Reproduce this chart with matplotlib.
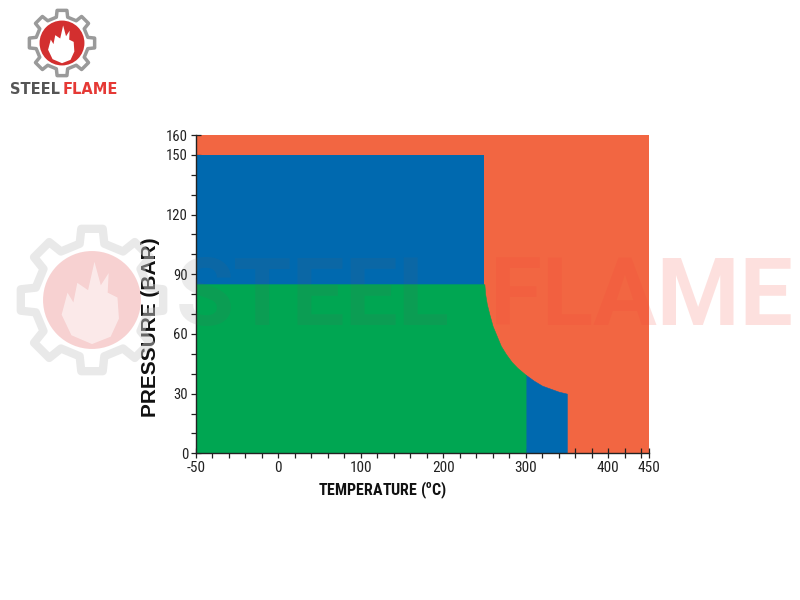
import numpy as np
import matplotlib
matplotlib.use('Agg')
import matplotlib.pyplot as plt
from matplotlib.patches import Polygon, Circle
from matplotlib import font_manager

# ---------------- data ----------------
temp_range = [-100, 450]          # visible temperature span (left end is labelled "-50" in the source)
press_range = [0, 160]
upper_blue_t = [-100, 250]
upper_blue_low = 85
upper_blue_high = 150
# boundary of the green / lower-blue area (temperature, pressure)
bound_t = [-100, 250, 251, 253, 256, 260, 265, 270, 276, 283, 290, 300, 310, 320, 330, 340, 350]
bound_p = [85, 85, 80, 75, 70, 64, 59, 54, 50, 46, 43, 39.5, 36.5, 34, 32.5, 31, 30]
green_limit = 300
x_tick_pos = [-100, 0, 100, 200, 300, 400, 450]
x_tick_labels = ['-50', '0', '100', '200', '300', '400', '450']
x_minor_step = 20
y_tick_pos = [0, 30, 60, 90, 120, 150, 160]
y_tick_labels = ['0', '30', '60', '90', '120', '150', '160']
y_minor_step = 10

ORANGE = '#F26642'
BLUE = '#0069AF'
GREEN = '#00A652'


def pick_font(names):
    for n in names:
        try:
            font_manager.findfont(n, fallback_to_default=False)
            return n
        except Exception:
            continue
    return 'DejaVu Sans'


NARROW = pick_font(['Liberation Sans Narrow', 'Roboto Condensed', 'Liberation Sans'])
ARIAL = pick_font(['Liberation Sans', 'DejaVu Sans'])
WM = pick_font(['Roboto', 'DejaVu Sans'])

fig = plt.figure(figsize=(8, 6), dpi=100)
ax = fig.add_axes([195.7 / 800, 1 - 453.3 / 600, (649.3 - 195.7) / 800, (453.3 - 135) / 600])

t = np.array(bound_t, dtype=float)
p = np.array(bound_p, dtype=float)

# orange background
ax.fill_between(temp_range, press_range[0], press_range[1], color=ORANGE, lw=0, zorder=1)
# upper blue rectangle (drawn down to the axis so no seam shows under the green)
ax.fill_between(upper_blue_t, press_range[0], upper_blue_high, color=BLUE, lw=0, zorder=2)
# lower blue area
m2 = t >= green_limit
ax.fill_between(t[m2], 0, p[m2], facecolor=BLUE, edgecolor=BLUE, lw=0.4, zorder=2)
# green area
m = t <= green_limit
ax.fill_between(t[m], 0, p[m], facecolor=GREEN, edgecolor=GREEN, lw=0.4, zorder=3)

ax.set_xlim(*temp_range)
ax.set_ylim(*press_range)

for s in ['top', 'right']:
    ax.spines[s].set_visible(False)
for s in ['left', 'bottom']:
    ax.spines[s].set_linewidth(1.0)
    ax.spines[s].set_color('#222222')
    ax.spines[s].set_zorder(5)

ax.set_xticks(x_tick_pos)
ax.set_xticklabels(x_tick_labels)
ax.set_xticks(list(np.arange(temp_range[0], temp_range[1], x_minor_step)) + [temp_range[1]], minor=True)
ax.set_yticks(y_tick_pos)
ax.set_yticklabels(y_tick_labels)
ax.set_yticks(np.arange(press_range[0], press_range[1] + 1, y_minor_step), minor=True)

ax.tick_params(axis='both', which='both', direction='inout', length=7, width=0.9,
               color='#222222', zorder=6)
ax.tick_params(axis='x', which='major', labelsize=11, pad=2)
ax.tick_params(axis='y', which='major', labelsize=10.5, pad=2)
for lab in ax.get_xticklabels() + ax.get_yticklabels():
    lab.set_fontfamily(NARROW)
    lab.set_color('#222222')

ax.set_xlabel(r'TEMPERATURE ($^{\mathregular{o}}$C)', fontsize=11.5, fontweight='bold',
              fontfamily=NARROW, color='#111111')
ax.xaxis.set_label_coords((383 - 195.7) / 453.6, (453.3 - 480) / 318.3)
ax.set_ylabel('PRESSURE (BAR)', fontsize=15, fontweight='bold',
              fontfamily=ARIAL, color='#111111')
ax.yaxis.set_label_coords((160 - 195.7) / 453.6, (453.3 - 327) / 318.3)

# ---------------- decorations (logo + watermark) ----------------
ov = fig.add_axes([0, 0, 1, 1], zorder=10)
ov.set_xlim(0, 800)
ov.set_ylim(600, 0)
ov.axis('off')
ov.patch.set_alpha(0)


def gear_pts(cx, cy, r_out, r_in, n=8):
    pts = []
    for i in range(n):
        a = 2 * np.pi * i / n
        wb = np.pi / n * 0.55
        wt = np.pi / n * 0.38
        pts += [(cx + r_in * np.cos(a - wb), cy + r_in * np.sin(a - wb)),
                (cx + r_out * np.cos(a - wt), cy + r_out * np.sin(a - wt)),
                (cx + r_out * np.cos(a + wt), cy + r_out * np.sin(a + wt)),
                (cx + r_in * np.cos(a + wb), cy + r_in * np.sin(a + wb))]
    return pts


flame_norm = [(0, 0.9), (-0.42, 0.72), (-0.62, 0.3), (-0.5, -0.15), (-0.38, 0.05), (-0.3, -0.35),
              (-0.08, -0.2), (0.05, -0.78), (0.18, -0.3), (0.34, -0.55), (0.32, -0.15),
              (0.52, -0.05), (0.55, 0.38), (0.38, 0.75)]


def logo(cx, cy, r, gear_col, circ_col, alpha, lw):
    ov.add_patch(Polygon(gear_pts(cx, cy, r, r * 0.8), closed=True, fill=False,
                         edgecolor=gear_col, lw=lw, alpha=alpha, joinstyle='round'))
    rc = r * 0.68
    ov.add_patch(Circle((cx, cy), rc, facecolor=circ_col, edgecolor='none', alpha=alpha))
    fl = [(cx + rc * fx, cy + rc * fy) for fx, fy in flame_norm]
    ov.add_patch(Polygon(fl, closed=True, facecolor='white', edgecolor='none', alpha=0.85 * alpha + 0.15))


# top-left logo
logo(62, 43, 33, '#9a9a9a', '#d32f2f', 1.0, 2.5)
ov.text(10, 89, 'STEEL', fontsize=10.5, fontweight='bold', color='#555555',
        ha='left', va='center', fontfamily='DejaVu Sans')
ov.text(63, 89, 'FLAME', fontsize=10.5, fontweight='bold', color='#e53935',
        ha='left', va='center', fontfamily='DejaVu Sans')

# watermark
logo(92, 300, 72, '#cfcfcf', '#ef9a9a', 0.45, 6)
ov.text(176, 299, 'STEEL', fontsize=68, fontweight='bold', color='#606060', alpha=0.12,
        ha='left', va='center', fontfamily=WM)
ov.text(490, 299, 'FLAME', fontsize=68, fontweight='bold', color='#f44336', alpha=0.16,
        ha='left', va='center', fontfamily=WM)

fig.savefig('out.png', dpi=100, facecolor='white')
